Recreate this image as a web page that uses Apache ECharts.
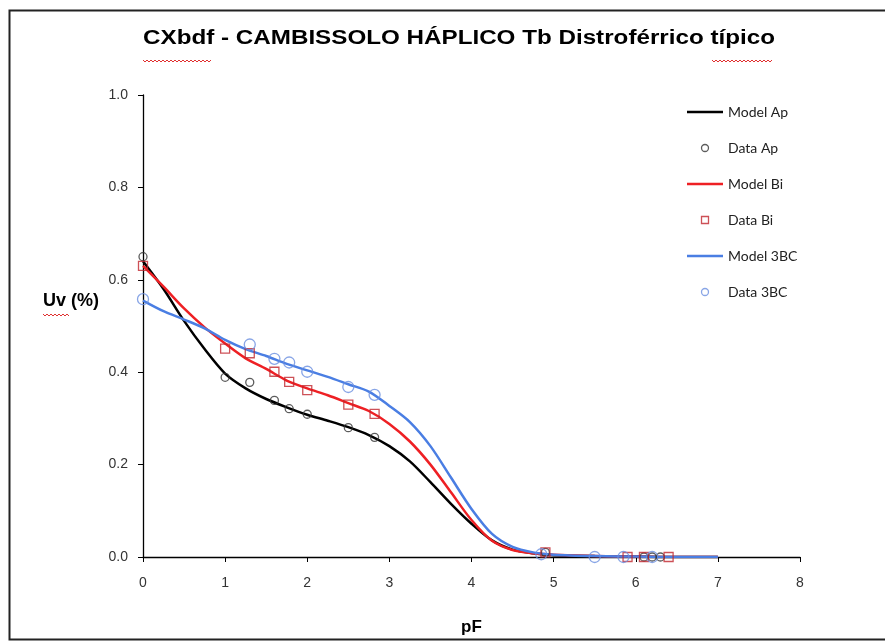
<!DOCTYPE html>
<html>
<head>
<meta charset="utf-8">
<script src="https://cdn.jsdelivr.net/npm/echarts@6/dist/echarts.min.js"></script>
<style>
  html, body { margin: 0; padding: 0; background: #fff; }
  #chart { width: 885px; height: 641px; }
</style>
</head>
<body>
<div id="chart"></div>
<script>
// pF grid for the fitted curves
var modelX = [0, 0.25, 0.5, 0.75, 1, 1.25, 1.5, 1.75, 2, 2.25, 2.5, 2.75, 3, 3.25, 3.5, 3.75, 4, 4.25, 4.5, 4.75, 5, 5.5, 6, 6.5, 7];
var modelAp = [0.64, 0.58, 0.511, 0.45, 0.397, 0.365, 0.342, 0.324, 0.308, 0.295, 0.281, 0.264, 0.24, 0.207, 0.162, 0.115, 0.072, 0.036, 0.016, 0.008, 0.004, 0.002, 0.001, 0, 0];
var modelBi = [0.63, 0.585, 0.538, 0.497, 0.462, 0.43, 0.407, 0.382, 0.365, 0.35, 0.333, 0.316, 0.288, 0.25, 0.2, 0.14, 0.08, 0.035, 0.015, 0.008, 0.005, 0.002, 0.001, 0, 0];
var model3BC = [0.555, 0.532, 0.514, 0.495, 0.47, 0.45, 0.435, 0.418, 0.404, 0.39, 0.374, 0.358, 0.327, 0.292, 0.24, 0.172, 0.104, 0.05, 0.022, 0.01, 0.005, 0.002, 0.001, 0, 0];

// measured points
var dataApX = [0, 1, 1.3, 1.6, 1.78, 2, 2.5, 2.82, 4.9, 6.1, 6.2, 6.3];
var dataApY = [0.65, 0.389, 0.378, 0.339, 0.321, 0.309, 0.28, 0.259, 0.01, 0, 0, 0];
var dataBiX = [0, 1, 1.3, 1.6, 1.78, 2, 2.5, 2.82, 4.9, 5.9, 6.1, 6.4];
var dataBiY = [0.63, 0.451, 0.441, 0.401, 0.379, 0.361, 0.33, 0.31, 0.01, 0, 0, 0];
var data3BCX = [0, 1.3, 1.6, 1.78, 2, 2.5, 2.82, 4.85, 5.5, 5.85, 6.2];
var data3BCY = [0.558, 0.46, 0.429, 0.421, 0.401, 0.368, 0.351, 0.006, 0, 0, 0];

var legendNames = ['Model Ap', 'Data Ap', 'Model Bi', 'Data Bi', 'Model 3BC', 'Data 3BC'];
var titleText = 'CXbdf - CAMBISSOLO HÁPLICO Tb Distroférrico típico';

var colors = {
    'Model Ap': '#000', 'Data Ap': '#333',
    'Model Bi': '#ee2024', 'Data Bi': '#c0262d',
    'Model 3BC': '#4a7ee3', 'Data 3BC': '#6a8fe0'
};

function pairs(xs, ys) {
    return xs.map(function (x, i) { return [x, ys[i]]; });
}

// red spell-check squiggle under a word
function squiggle(x0, x1, y) {
    var pts = [];
    for (var x = x0, k = 0; x <= x1; x += 2, k++) {
        pts.push([x, y + (k % 2 ? 2 : 0)]);
    }
    return {
        type: 'polyline',
        shape: { points: pts },
        style: { stroke: '#e03030', lineWidth: 1, fill: null },
        silent: true
    };
}

var chart = echarts.init(document.getElementById('chart'));

var lineCommon = { type: 'line', symbol: 'none', smooth: 0.3, z: 2 };
var lineIcon = 'path://M0,0H36V2.5H0Z';
var squareIcon = 'path://M0,0H10V10H0Z';

function hollow(name) {
    return { color: 'rgba(255,255,255,0)', borderColor: colors[name], borderWidth: 1.3 };
}

var option = {
    animation: false,
    backgroundColor: '#fff',
    legend: {
        orient: 'vertical',
        left: 682,
        top: 100,
        itemWidth: 36,
        itemHeight: 7,
        itemGap: 22,
        data: legendNames.map(function (n) {
            if (n.indexOf('Model') === 0) return { name: n, icon: lineIcon };
            return { name: n, icon: n === 'Data Bi' ? squareIcon : 'circle', itemStyle: hollow(n) };
        }),
        textStyle: { fontFamily: 'Lato', fontSize: 14, color: '#222' }
    },
    grid: { left: 143, right: 85, top: 95, bottom: 84 },
    xAxis: {
        type: 'value',
        min: 0,
        max: 8,
        interval: 1,
        name: 'pF',
        nameLocation: 'middle',
        nameGap: 62,
        nameTextStyle: { fontFamily: 'Liberation Sans', fontWeight: 'bold', fontSize: 17, color: '#000' },
        axisLine: { lineStyle: { color: '#000', width: 1.3 } },
        axisTick: { show: true, length: 5, lineStyle: { color: '#000' } },
        axisLabel: { fontFamily: 'Liberation Sans', fontSize: 14, color: '#333', margin: 19 },
        splitLine: { show: false }
    },
    yAxis: {
        type: 'value',
        min: 0,
        max: 1,
        interval: 0.2,
        axisLine: { show: true, lineStyle: { color: '#000', width: 1.3 } },
        axisTick: { show: true, length: 5, lineStyle: { color: '#000' } },
        axisLabel: {
            fontFamily: 'Liberation Sans', fontSize: 14, color: '#333', margin: 15,
            formatter: function (v) { return v.toFixed(1); }
        },
        splitLine: { show: false }
    },
    graphic: [
        {
            type: 'rect',
            shape: { x: 9.5, y: 10.5, width: 1000, height: 629 },
            style: { stroke: '#222', lineWidth: 2, fill: null },
            silent: true
        },
        {
            type: 'text',
            x: 459,
            y: 28,
            scaleX: 1.21,
            style: {
                text: titleText, textAlign: 'center', textVerticalAlign: 'top',
                fontFamily: 'Liberation Sans', fontWeight: 'bold', fontSize: 20, fill: '#000'
            }
        },
        {
            type: 'text',
            x: 43,
            y: 292,
            style: { text: 'Uv (%)', fontFamily: 'Liberation Sans', fontWeight: 'bold', fontSize: 18, fill: '#000' }
        },
        squiggle(143, 211, 60),
        squiggle(712, 772, 60),
        squiggle(43, 70, 314)
    ],
    series: [
        Object.assign({}, lineCommon, {
            name: 'Model Ap',
            data: pairs(modelX, modelAp),
            itemStyle: { color: colors['Model Ap'] },
            lineStyle: { color: colors['Model Ap'], width: 2.5 }
        }),
        {
            name: 'Data Ap',
            type: 'scatter',
            symbol: 'circle',
            symbolSize: 8,
            data: pairs(dataApX, dataApY),
            itemStyle: hollow('Data Ap'),
            z: 3
        },
        Object.assign({}, lineCommon, {
            name: 'Model Bi',
            data: pairs(modelX, modelBi),
            itemStyle: { color: colors['Model Bi'] },
            lineStyle: { color: colors['Model Bi'], width: 2.5 }
        }),
        {
            name: 'Data Bi',
            type: 'scatter',
            symbol: 'rect',
            symbolSize: 9,
            data: pairs(dataBiX, dataBiY),
            itemStyle: hollow('Data Bi'),
            z: 3
        },
        Object.assign({}, lineCommon, {
            name: 'Model 3BC',
            data: pairs(modelX, model3BC),
            itemStyle: { color: colors['Model 3BC'] },
            lineStyle: { color: colors['Model 3BC'], width: 2.5 }
        }),
        {
            name: 'Data 3BC',
            type: 'scatter',
            symbol: 'circle',
            symbolSize: 11,
            data: pairs(data3BCX, data3BCY),
            itemStyle: hollow('Data 3BC'),
            z: 3
        }
    ]
};

chart.setOption(option);
</script>
</body>
</html>
